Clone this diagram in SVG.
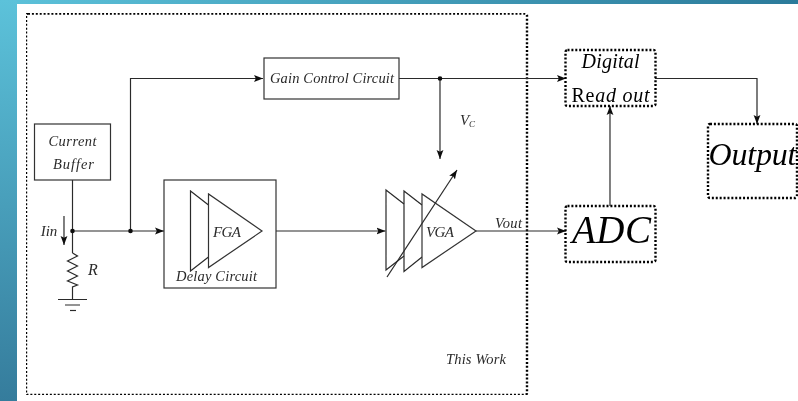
<svg xmlns="http://www.w3.org/2000/svg" width="798" height="401" viewBox="0 0 798 401">
<style>
.l{fill:none;stroke:#2a2a2a;stroke-width:1.2}
.b{fill:#fff;stroke:#333;stroke-width:1.2}
.d{fill:none;stroke:#000;stroke-width:2.4;stroke-dasharray:2 1.9}
.a{marker-end:url(#ah)}
text{font-family:"Liberation Serif","Times New Roman",serif;font-style:italic;fill:#2a2a2a;text-anchor:middle}
.s{font-size:14.5px}
.m{font-size:15px}
.big{fill:#000}
</style>
<defs>
<filter id="soft" x="0" y="0" width="100%" height="100%"><feGaussianBlur stdDeviation="0.25"/></filter>
<linearGradient id="bgl" x1="0" y1="0" x2="0" y2="401" gradientUnits="userSpaceOnUse">
<stop offset="0" stop-color="#5cc2da"/>
<stop offset="1" stop-color="#357c9c"/>
</linearGradient>
<linearGradient id="bgt" x1="0" y1="0" x2="798" y2="0" gradientUnits="userSpaceOnUse">
<stop offset="0" stop-color="#5cc2da"/>
<stop offset="1" stop-color="#2b7a9a"/>
</linearGradient>
<marker id="ah" markerUnits="userSpaceOnUse" markerWidth="10" markerHeight="8" refX="9" refY="4" orient="auto">
<path d="M0,0.6 L9,4 L0,7.4 L1.8,4 Z" fill="#111"/>
</marker>
</defs>
<rect id="background" width="798" height="401" fill="#fff"/>
<rect x="0" y="0" width="798" height="4" fill="url(#bgt)"/>
<rect x="0" y="0" width="17" height="401" fill="url(#bgl)"/>

<g id="diagram" filter="url(#soft)">
<g id="this-work">
<rect class="d" x="26" y="13.5" width="501" height="381.5" rx="2"/>
<text class="s" x="476" y="364" textLength="60">This Work</text>
</g>

<g id="connectors">
<path class="l" d="M72.5,180V253"/>
<path class="l a" d="M72.5,231H164"/>
<path class="l a" d="M130.5,231V78.5H263"/>
<path class="l a" d="M276,231H385.5"/>
<path class="l a" d="M476,231H566"/>
<path class="l a" d="M399,78.5H566"/>
<path class="l a" d="M440,78.5V159"/>
<path class="l a" d="M610,206V106"/>
<path class="l a" d="M655,78.5H757V124"/>
<path class="l a" d="M64,216V245"/>
<circle cx="72.5" cy="231" r="2.3" fill="#111"/>
<circle cx="130.5" cy="231" r="2.3" fill="#111"/>
<circle cx="440" cy="78.5" r="2.3" fill="#111"/>
</g>

<g id="current-buffer">
<rect class="b" x="34.5" y="124" width="76" height="56"/>
<text class="s" x="72.5" y="145.5" textLength="48">Current</text>
<text class="s" x="73.5" y="169" textLength="41">Buffer</text>
</g>

<g id="gain-control">
<rect class="b" x="264" y="58" width="135" height="41"/>
<text class="s" x="332" y="82.5" textLength="124">Gain Control Circuit</text>
</g>

<g id="delay-circuit">
<rect class="b" x="164" y="180" width="112" height="108"/>
<path class="l" d="M208.5,205L190.5,191V271L208.5,257"/>
<path class="b" d="M208.5,194V267.5L262,231Z"/>
<text class="m" x="227" y="236.5" textLength="28">FGA</text>
<text class="s" x="216.5" y="281" textLength="81">Delay Circuit</text>
</g>

<g id="vga">
<path class="l" d="M404,204L386,190V270L404,256"/>
<path class="l" d="M422,205L404,191V271.5L422,257"/>
<path class="b" d="M422,194V267.5L476,231Z"/>
<text class="m" x="440" y="236.5" textLength="28">VGA</text>
<path class="l a" d="M387,277L457,170"/>
</g>

<g id="resistor">
<path class="l" d="M72.5,253L77.5,256L67.5,261L77.5,266L67.5,271L77.5,276L67.5,281L77.5,285L72.5,287V299.5" stroke-width="1.5"/>
<path class="l" d="M58,299.5H87M65,305H80"/>
<path class="l" d="M70,310.5H76"/>
<text font-size="16" x="93" y="275">R</text>
<text class="m" x="49" y="235.5" textLength="16.5">Iin</text>
</g>

<g id="labels">
<text class="m" x="467.5" y="124.5">V<tspan font-size="9" dy="2">C</tspan></text>
<text class="s" x="508.5" y="228" textLength="27">Vout</text>
</g>

<g id="digital-readout">
<rect class="d" x="565.5" y="50" width="90" height="56" rx="2"/>
<text class="big" font-size="20" x="610.5" y="68" textLength="58">Digital</text>
<text class="big" font-size="20" x="610.5" y="101.5" textLength="78"><tspan font-style="normal">Re</tspan>ad out</text>
</g>

<g id="adc">
<rect class="d" x="565.5" y="206" width="90" height="56" rx="2"/>
<text class="big" font-size="39" x="611.5" y="243" textLength="79">ADC</text>
</g>

<g id="output">
<rect class="d" x="708" y="124" width="89" height="74" rx="2"/>
<text class="big" font-size="32" x="752.5" y="165" textLength="88">Output</text>
</g>
</g>
</svg>
